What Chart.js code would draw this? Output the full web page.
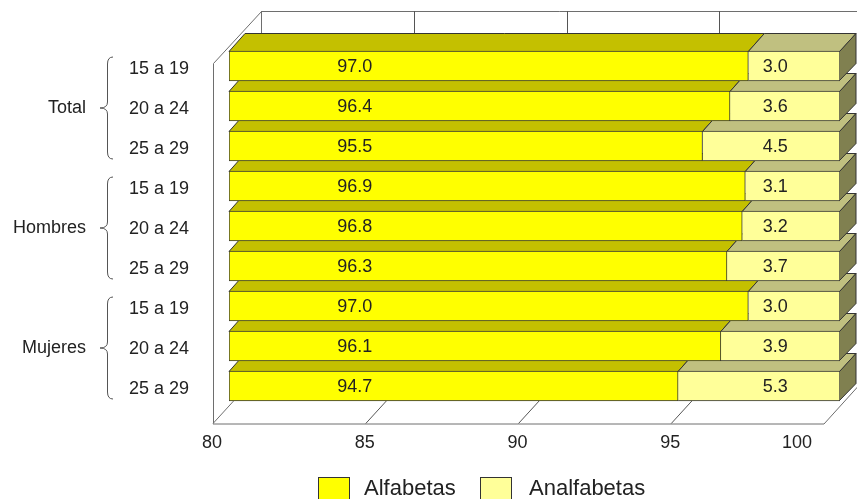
<!DOCTYPE html>
<html>
<head>
<meta charset="utf-8">
<script src="https://cdn.jsdelivr.net/npm/chart.js@4/dist/chart.umd.min.js"></script>
<style>
  html, body { margin: 0; padding: 0; background: #ffffff; }
  #wrap { width: 857px; height: 499px; }
</style>
</head>
<body>
<div id="wrap"><canvas id="c" width="857" height="499"></canvas></div>
<script>
// Grupos y tramos de edad
const grupos = ['Total', 'Hombres', 'Mujeres'];
const edades = ['15 a 19', '20 a 24', '25 a 29'];

// Porcentajes por grupo y tramo de edad
const alfabetas   = [97.0, 96.4, 95.5, 96.9, 96.8, 96.3, 97.0, 96.1, 94.7];
const analfabetas = [3.0, 3.6, 4.5, 3.1, 3.2, 3.7, 3.0, 3.9, 5.3];

// Marcas del eje de valores
const xTicks = [80, 85, 90, 95, 100];

const categorias = [];
grupos.forEach(() => edades.forEach(e => categorias.push(e)));

const FONT = "'Liberation Sans', Arial, Helvetica, sans-serif";
const TEXT = '#222222';
const EDGE = '#333333';
const WALL = '#6e6e6e';

// Profundidad oblicua: una unidad = grosor de la barra en profundidad
const DX = 16, DY = -17.5;

const colores = {
  alfa:  { front: '#ffff00', top: '#c4c000', side: '#808050' },
  analf: { front: '#ffff99', top: '#c0c080', side: '#808050' }
};

function poly(ctx, pts, fill, stroke) {
  ctx.beginPath();
  ctx.moveTo(pts[0][0], pts[0][1]);
  for (let i = 1; i < pts.length; i++) ctx.lineTo(pts[i][0], pts[i][1]);
  ctx.closePath();
  if (fill) { ctx.fillStyle = fill; ctx.fill(); }
  if (stroke) { ctx.strokeStyle = stroke; ctx.lineWidth = 1; ctx.stroke(); }
}

const caja3d = {
  id: 'caja3d',
  beforeDatasetsDraw(chart) {
    const ctx = chart.ctx;
    const a = chart.chartArea;
    const xs = chart.scales.x;
    ctx.save();
    // plano frontal de la caja (-1 unidad) y plano de fondo (+2 unidades)
    const fx = v => xs.getPixelForValue(v) - DX;
    const bx = v => xs.getPixelForValue(v) + 2 * DX;
    const topF = a.top - DY, floorF = a.bottom - DY;
    const topB = a.top + 2 * DY, floorB = a.bottom + 2 * DY;
    const x80f = fx(80), x80b = bx(80), x100f = fx(100), x100b = bx(100);

    // paredes en blanco
    poly(ctx, [[x80f, topF], [x80b, topB], [x80b, floorB], [x80f, floorF]], '#ffffff', null);
    poly(ctx, [[x80b, topB], [x100b, topB], [x100b, floorB], [x80b, floorB]], '#ffffff', null);

    ctx.strokeStyle = WALL;
    ctx.lineWidth = 1;
    ctx.beginPath();
    // pared izquierda y borde superior del fondo
    ctx.moveTo(x80f + 0.5, floorF);
    ctx.lineTo(x80f + 0.5, topF);
    ctx.lineTo(x80b + 0.5, topB + 0.5);
    ctx.lineTo(x100b, topB + 0.5);
    ctx.moveTo(x80b + 0.5, topB);
    ctx.lineTo(x80b + 0.5, floorB);
    // suelo
    ctx.moveTo(x80f, floorF + 0.5);
    ctx.lineTo(x100f, floorF + 0.5);
    ctx.lineTo(x100b, floorB);
    ctx.moveTo(x80f, floorF);
    ctx.lineTo(x80b, floorB);
    ctx.stroke();

    // lineas de division en el fondo y en el suelo
    ctx.strokeStyle = '#555555';
    ctx.beginPath();
    xTicks.slice(1, -1).forEach(v => {
      const xb = Math.round(bx(v)) + 0.5;
      ctx.moveTo(xb, topB);
      ctx.lineTo(xb, floorB);
      ctx.moveTo(fx(v), floorF);
      ctx.lineTo(bx(v), floorB);
    });
    ctx.stroke();

    // caras superiores y laterales de las barras
    const metas = [chart.getDatasetMeta(0), chart.getDatasetMeta(1)];
    const estilos = [colores.alfa, colores.analf];
    for (let j = categorias.length - 1; j >= 0; j--) {
      metas.forEach((meta, k) => {
        const el = meta.data[j];
        const x0 = Math.min(el.base, el.x), x1 = Math.max(el.base, el.x);
        const yt = el.y - el.height / 2, yb = el.y + el.height / 2;
        poly(ctx, [[x0, yt + 0.5], [x1, yt + 0.5], [x1 + DX, yt + DY], [x0 + DX, yt + DY]], estilos[k].top, EDGE);
        if (k === metas.length - 1) {
          poly(ctx, [[x1 - 0.5, yt + 0.5], [x1 + DX, yt + DY], [x1 + DX, yb + DY], [x1 - 0.5, yb - 0.5]], estilos[k].side, EDGE);
        }
      });
    }
    ctx.restore();
  },
  afterDatasetsDraw(chart) {
    const ctx = chart.ctx;
    const a = chart.chartArea;
    const xs = chart.scales.x;
    const ys = chart.scales.y;
    ctx.save();
    ctx.font = '18px ' + FONT;
    ctx.fillStyle = TEXT;
    ctx.textBaseline = 'middle';
    ctx.textAlign = 'center';

    // etiquetas de valores
    const m0 = chart.getDatasetMeta(0), m1 = chart.getDatasetMeta(1);
    const xa = a.left + 0.206 * (a.right - a.left);
    const xn = a.left + 0.894 * (a.right - a.left);
    categorias.forEach((c, j) => {
      ctx.fillText(alfabetas[j].toFixed(1), xa, m0.data[j].y + 1.5);
      ctx.fillText(analfabetas[j].toFixed(1), xn, m1.data[j].y + 1.5);
    });

    // etiquetas del eje de valores, bajo el borde frontal del suelo
    const yLab = a.bottom - DY + 20;
    xTicks.forEach((v, i) => {
      const x = xs.getPixelForValue(v) - DX;
      if (i === xTicks.length - 1) {
        ctx.textAlign = 'right';
        ctx.fillText(String(v), x - 12, yLab);
      } else {
        ctx.textAlign = 'center';
        ctx.fillText(String(v), x - 1, yLab);
      }
    });

    // grupos con llaves
    ctx.strokeStyle = '#555555';
    ctx.lineWidth = 1;
    grupos.forEach((g, gi) => {
      const y1 = ys.getPixelForValue(gi * 3);
      const y2 = ys.getPixelForValue(gi * 3 + 2);
      const mid = (y1 + y2) / 2 + 2;
      const top = mid - 51, bot = mid + 51;
      const xs0 = 107.5, tip = 100, end = 113;
      ctx.beginPath();
      ctx.moveTo(end, top);
      ctx.quadraticCurveTo(xs0, top, xs0, top + 7);
      ctx.lineTo(xs0, mid - 6);
      ctx.quadraticCurveTo(xs0, mid, tip, mid);
      ctx.quadraticCurveTo(xs0, mid, xs0, mid + 6);
      ctx.lineTo(xs0, bot - 7);
      ctx.quadraticCurveTo(xs0, bot, end, bot);
      ctx.stroke();
      ctx.textAlign = 'right';
      ctx.fillText(g, 86, mid);
    });

    // leyenda
    const items = [
      { text: 'Alfabetas', color: colores.alfa.front, box: 318, tx: 364 },
      { text: 'Analfabetas', color: colores.analf.front, box: 480, tx: 529 }
    ];
    ctx.font = '22px ' + FONT;
    ctx.textAlign = 'left';
    ctx.textBaseline = 'alphabetic';
    items.forEach(it => {
      ctx.fillStyle = it.color;
      ctx.fillRect(it.box, 477, 32, 26);
      ctx.strokeStyle = EDGE;
      ctx.strokeRect(it.box + 0.5, 477.5, 31, 25);
      ctx.fillStyle = TEXT;
      ctx.fillText(it.text, it.tx, 495);
    });
    ctx.restore();
  }
};

new Chart(document.getElementById('c'), {
  type: 'bar',
  data: {
    labels: categorias,
    datasets: [
      {
        label: 'Alfabetas',
        data: alfabetas,
        base: 80,
        backgroundColor: colores.alfa.front,
        borderColor: EDGE,
        borderWidth: 1,
        borderSkipped: false,
        barThickness: 30
      },
      {
        label: 'Analfabetas',
        data: analfabetas,
        backgroundColor: colores.analf.front,
        borderColor: EDGE,
        borderWidth: 1,
        barThickness: 30
      }
    ]
  },
  options: {
    indexAxis: 'y',
    responsive: false,
    devicePixelRatio: 1,
    animation: false,
    layout: { padding: { left: 0, top: 46, right: 17, bottom: 93 } },
    plugins: {
      legend: { display: false },
      tooltip: { enabled: false }
    },
    scales: {
      x: {
        stacked: true,
        min: 80,
        max: 100,
        display: false
      },
      y: {
        stacked: true,
        grid: { display: false, drawTicks: false },
        border: { display: false },
        ticks: {
          padding: 40,
          labelOffset: 3,
          color: TEXT,
          font: { family: FONT, size: 18 }
        },
        afterFit(scale) {
          scale.width = 229;
          scale.paddingTop = 0;
          scale.paddingBottom = 0;
        }
      }
    }
  },
  plugins: [caja3d]
});
</script>
</body>
</html>
